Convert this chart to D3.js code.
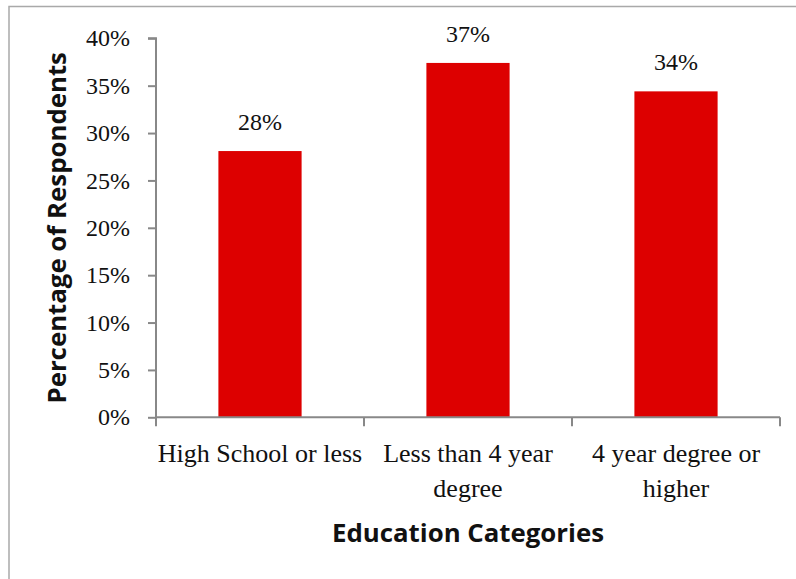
<!DOCTYPE html>
<html>
<head>
<meta charset="utf-8">
<script src="https://cdn.jsdelivr.net/npm/d3@7"></script>
<style>
  html, body { margin: 0; padding: 0; background: #fff; }
  svg { display: block; }
</style>
</head>
<body>
<svg id="chart" width="796" height="579"></svg>
<script>
// Survey results by education level
const categories = ["High School or less", "Less than 4 year degree", "4 year degree or higher"];
const categoryLines = [["High School or less"], ["Less than 4 year", "degree"], ["4 year degree or", "higher"]];
const shares = [0.281, 0.374, 0.344];
const yTicks = [0, 0.05, 0.10, 0.15, 0.20, 0.25, 0.30, 0.35, 0.40];

const svg = d3.select("#chart");
const W = 796, H = 579;
const plot = { left: 156, right: 780, top: 38.3, bottom: 417.3 };

const serif = "'Liberation Serif', 'Times New Roman', serif";
const sans = "'Open Sans', Lato, sans-serif";
const axisColor = "#888888";

// Outer frame (only top and left edges fall inside the canvas)
svg.append("path")
  .attr("d", `M9,${H} L9,6.5 L${W},6.5`)
  .attr("fill", "none")
  .attr("stroke", "#a9a9a9")
  .attr("stroke-width", 1.5);

const x = d3.scaleBand().domain(categories).range([plot.left, plot.right]).padding(0);
const y = d3.scaleLinear().domain([0, 0.40]).range([plot.bottom, plot.top]);
const pct = d3.format(".0%");

// Bars
const barFrac = 0.4;
svg.append("g").selectAll("rect")
  .data(categories)
  .join("rect")
  .attr("x", (c) => x(c) + x.bandwidth() * (1 - barFrac) / 2)
  .attr("width", x.bandwidth() * barFrac)
  .attr("y", (c, i) => y(shares[i]))
  .attr("height", (c, i) => y(0) - y(shares[i]))
  .attr("fill", "#dd0000");

// Y axis
const yAxis = svg.append("g")
  .attr("transform", `translate(${plot.left},0)`)
  .call(d3.axisLeft(y).tickValues(yTicks).tickFormat(pct).tickSize(8).tickPadding(18));
yAxis.select(".domain").attr("stroke", axisColor).attr("stroke-width", 2).attr("d", `M0,${plot.bottom}V${plot.top}H-8`);
yAxis.selectAll(".tick line").attr("stroke", axisColor).attr("stroke-width", 2);
yAxis.selectAll(".tick text")
  .attr("font-family", serif).attr("font-size", 24).attr("fill", "#111");

// X axis: ticks at category boundaries
const boundaries = categories.map((c) => x(c)).concat([plot.right]);
const xAxis = svg.append("g");
xAxis.append("line")
  .attr("x1", plot.left).attr("x2", plot.right)
  .attr("y1", plot.bottom).attr("y2", plot.bottom)
  .attr("stroke", axisColor).attr("stroke-width", 2);
xAxis.selectAll("line.tick")
  .data(boundaries)
  .join("line")
  .attr("class", "tick")
  .attr("x1", (d) => d).attr("x2", (d) => d)
  .attr("y1", plot.bottom).attr("y2", plot.bottom + 9)
  .attr("stroke", axisColor).attr("stroke-width", 2);

// Category labels
const catText = svg.append("g").selectAll("text")
  .data(categories)
  .join("text")
  .attr("font-family", serif).attr("font-size", 26).attr("fill", "#111")
  .attr("text-anchor", "middle");
catText.each(function (c, i) {
  d3.select(this).selectAll("tspan")
    .data(categoryLines[i])
    .join("tspan")
    .attr("x", x(c) + x.bandwidth() / 2)
    .attr("y", (d, j) => 462 + j * 35)
    .text((d) => d);
});

// Value labels
svg.append("g").selectAll("text")
  .data(categories)
  .join("text")
  .attr("x", (c) => x(c) + x.bandwidth() / 2)
  .attr("y", (c, i) => y(shares[i]) - 21)
  .attr("text-anchor", "middle")
  .attr("font-family", serif).attr("font-size", 24).attr("fill", "#111")
  .text((c, i) => pct(shares[i]));

// Axis titles
svg.append("text")
  .attr("x", (plot.left + plot.right) / 2)
  .attr("y", 542)
  .attr("text-anchor", "middle")
  .attr("font-family", sans).attr("font-weight", "bold").attr("font-size", 25.8).attr("fill", "#111")
  .text("Education Categories");

svg.append("text")
  .attr("transform", `translate(66,${(plot.top + plot.bottom) / 2}) rotate(-90)`)
  .attr("text-anchor", "middle")
  .attr("font-family", sans).attr("font-weight", "bold").attr("font-size", 25.8).attr("fill", "#111")
  .text("Percentage of Respondents");
</script>
</body>
</html>
